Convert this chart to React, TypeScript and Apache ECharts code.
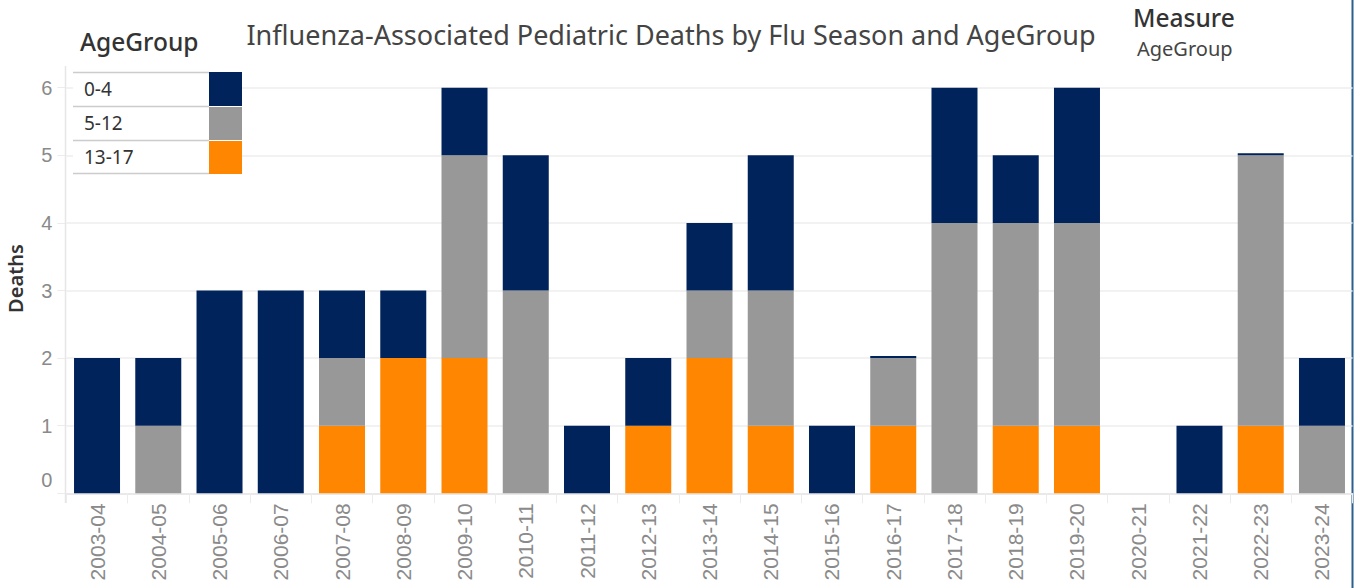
import React, { useEffect, useRef } from "react";
import * as echarts from "echarts";

const seasons = [
  "2003-04", "2004-05", "2005-06", "2006-07", "2007-08", "2008-09", "2009-10",
  "2010-11", "2011-12", "2012-13", "2013-14", "2014-15", "2015-16", "2016-17",
  "2017-18", "2018-19", "2019-20", "2020-21", "2021-22", "2022-23", "2023-24",
];
const age0to4 = [2, 1, 3, 3, 1, 1, 1, 2, 1, 1, 1, 2, 1, 0.03, 2, 1, 2, 0, 1, 0.03, 1];
const age5to12 = [0, 1, 0, 0, 1, 0, 3, 3, 0, 0, 1, 2, 0, 1, 4, 3, 3, 0, 0, 4, 1];
const age13to17 = [0, 0, 0, 0, 1, 2, 2, 0, 0, 1, 2, 1, 0, 1, 0, 1, 1, 0, 0, 1, 0];
const groupNames = ["0-4", "5-12", "13-17"];
const groupColors = ["#00235b", "#989898", "#ff8600"];
const yTicks = [0, 1, 2, 3, 4, 5, 6];

const TITLE = "Influenza-Associated Pediatric Deaths by Flu Season and AgeGroup";
const UI_FONT = "'Noto Sans', 'Open Sans', sans-serif";
const AXIS_FONT = "'Liberation Sans', Arial, sans-serif";

export default function App() {
  const ref = useRef<HTMLDivElement>(null);
  useEffect(() => {
    document.body.style.margin = "0";
    if (!ref.current) return;
    const chart = echarts.init(ref.current, null, { renderer: "svg" });

    const legendEls: any[] = [];
    groupNames.forEach((name, i) => {
      const top = 72 + 34 * i;
      legendEls.push({
        type: "rect",
        shape: { x: 73, y: top, width: 136, height: 34 },
        style: { fill: "#ffffff" },
        z: 100,
      });
      legendEls.push({
        type: "rect",
        shape: { x: 209, y: top + (i === 0 ? 0 : 1), width: 33, height: i === 0 ? 34 : 33 },
        style: { fill: groupColors[i] },
        z: 101,
      });
      legendEls.push({
        type: "line",
        shape: { x1: 73, y1: top + 0.5, x2: 209, y2: top + 0.5 },
        style: { stroke: "#cccccc", lineWidth: 1.5 },
        z: 101,
      });
      legendEls.push({
        type: "text",
        x: 84,
        y: top + 17,
        style: {
          text: name,
          fill: "#333333",
          font: `19px ${UI_FONT}`,
          textVerticalAlign: "middle",
        },
        z: 102,
      });
    });
    legendEls.push({
      type: "line",
      shape: { x1: 73, y1: 173.5, x2: 209, y2: 173.5 },
      style: { stroke: "#cccccc", lineWidth: 1.5 },
      z: 101,
    });

    const series = [
      { name: groupNames[2], data: age13to17, color: groupColors[2] },
      { name: groupNames[1], data: age5to12, color: groupColors[1] },
      { name: groupNames[0], data: age0to4, color: groupColors[0] },
    ].map((s) => ({
      name: s.name,
      type: "bar",
      stack: "total",
      barWidth: 46,
      data: s.data,
      itemStyle: { color: s.color },
    }));

    chart.setOption({
      animation: false,
      grid: { left: 66.4, right: 3.4, top: 87.7, bottom: 94.7, containLabel: false },
      xAxis: {
        type: "category",
        data: seasons,
        axisLine: { show: true, lineStyle: { color: "#e6e6e6", width: 1.5 } },
        axisTick: { show: true, alignWithLabel: false, length: 10, lineStyle: { color: "#ececec" } },
        axisLabel: {
          rotate: 90,
          margin: 10,
          color: "#8a8a8a",
          fontSize: 21,
          fontFamily: AXIS_FONT,
          interval: 0,
        },
      },
      yAxis: {
        type: "value",
        min: 0,
        max: 6,
        interval: 1,
        axisLine: { show: false },
        axisTick: { show: true, length: 9, lineStyle: { color: "#ececec" } },
        splitLine: { show: true, lineStyle: { color: "#eeeeee", width: 1.5 } },
        axisLabel: {
          margin: 14,
          color: "#8a8a8a",
          fontSize: 20,
          fontFamily: AXIS_FONT,
          formatter: (v: number) =>
            yTicks.includes(v) ? (v === 0 ? "{z|0}" : String(v)) : "",
          rich: {
            z: { fontSize: 20, fontFamily: AXIS_FONT, color: "#8a8a8a", padding: [0, 0, 26, 0] },
          },
        },
      },
      series,
      graphic: [
        {
          type: "line",
          shape: { x1: 65.5, y1: 66, x2: 65.5, y2: 503 },
          style: { stroke: "#e6e6e6", lineWidth: 1.5 },
          z: 50,
        },
        {
          type: "text",
          x: 671,
          y: 34,
          style: {
            text: TITLE,
            fill: "#444444",
            font: `27px ${UI_FONT}`,
            textAlign: "center",
            textVerticalAlign: "middle",
          },
        },
        {
          type: "text",
          x: 80,
          y: 41,
          style: {
            text: "AgeGroup",
            fill: "#333333",
            font: `500 24.5px ${UI_FONT}`,
            textVerticalAlign: "middle",
          },
        },
        {
          type: "text",
          x: 1133,
          y: 17,
          style: {
            text: "Measure",
            fill: "#333333",
            font: `500 24.5px ${UI_FONT}`,
            textVerticalAlign: "middle",
          },
        },
        {
          type: "text",
          x: 1137,
          y: 48,
          style: {
            text: "AgeGroup",
            fill: "#444444",
            font: `20px ${UI_FONT}`,
            textVerticalAlign: "middle",
          },
        },
        {
          type: "text",
          x: 15,
          y: 278.5,
          rotation: Math.PI / 2,
          style: {
            text: "Deaths",
            fill: "#333333",
            font: `600 20px ${UI_FONT}`,
            textAlign: "center",
            textVerticalAlign: "middle",
          },
        },
        {
          type: "rect",
          shape: { x: 1351.5, y: 0, width: 2, height: 588 },
          style: { fill: "#2a5f8f" },
        },
        ...legendEls,
      ],
    });
    return () => chart.dispose();
  }, []);
  return <div ref={ref} style={{ width: 1356, height: 588 }} />;
}
